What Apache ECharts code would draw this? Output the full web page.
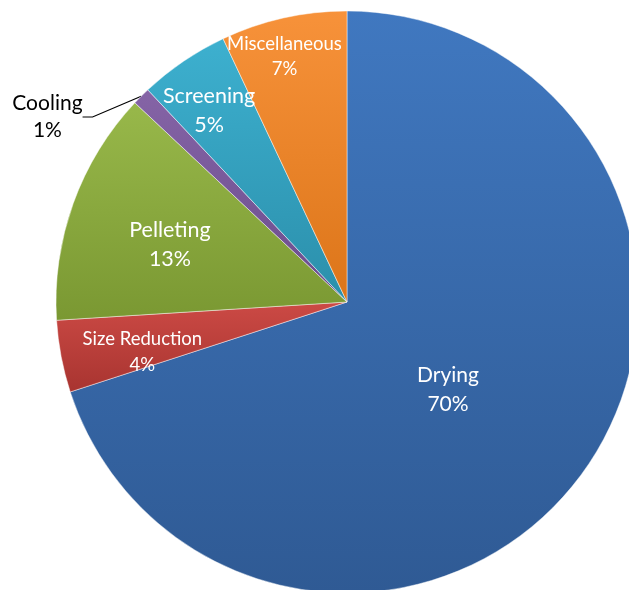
<!DOCTYPE html>
<html><head><meta charset="utf-8">
<script src="https://cdn.jsdelivr.net/npm/echarts@6/dist/echarts.min.js"></script>
<style>html,body{margin:0;padding:0;background:#fff}#c{width:629px;height:590px}</style>
</head><body><div id="c"></div><script>
// Data
const categories = ['Drying', 'Size Reduction', 'Pelleting', 'Cooling', 'Screening', 'Miscellaneous'];
const shares = [70, 4, 13, 1, 5, 7];

// Styling
const topColors = ['#4078c0', '#cc4a45', '#98b84a', '#8564a6', '#3db0cf', '#f7923a'];
const bottomColors = ['#2f5a94', '#a83430', '#7a9832', '#6a4c8c', '#2b8fab', '#dc7519'];
const labelColors = ['#fff', '#fff', '#fff', '#000', '#fff', '#fff'];
const labelSizes = [21, 18.5, 21.5, 21, 21.5, 18.5];
const labelLineHeights = [29, 26, 29, 27, 29, 25];
// [angle shift from slice middle (deg), distance as fraction of radius]
const labelPlacement = [[5, 0.46], [-3, 0.724], [-1.7, 0.64], [-13.3, 1.21], [-1.6, 0.81], [-1.7, 0.87]];

const CX = 347, CY = 302, R = 291;
const total = shares.reduce((a, b) => a + b, 0);
const mids = [];
let acc = 0;
shares.forEach(v => { mids.push((acc + v / 2) / total * 360); acc += v; });

const chart = echarts.init(document.getElementById('c'));
chart.setOption({
  animation: false,
  series: [{
    type: 'pie',
    startAngle: 90,
    clockwise: true,
    center: [CX, CY],
    radius: [0, R],
    avoidLabelOverlap: false,
    label: { position: 'inside', fontFamily: 'Lato', formatter: '{b}\n{c}%' },
    labelLine: { show: false },
    labelLayout: function (p) {
      const i = p.dataIndex;
      const pl = labelPlacement[i];
      const a = (mids[i] + pl[0]) * Math.PI / 180;
      const d = pl[1] * R;
      return { x: CX + d * Math.sin(a), y: CY - d * Math.cos(a), align: 'center', verticalAlign: 'middle' };
    },
    itemStyle: { borderColor: 'rgba(255,255,255,0.45)', borderWidth: 1 },
    data: categories.map((name, i) => ({
      name: name,
      value: shares[i],
      itemStyle: {
        color: new echarts.graphic.LinearGradient(0, 0, 0, 1, [
          { offset: 0, color: topColors[i] },
          { offset: 1, color: bottomColors[i] }
        ])
      },
      label: {
        position: i === 3 ? 'outside' : 'inside',
        color: labelColors[i],
        fontSize: labelSizes[i],
        lineHeight: labelLineHeights[i]
      },
      labelLine: i === 3 ? { show: true, length: 10, length2: 10, lineStyle: { color: '#000', width: 1.2 } } : { show: false }
    }))
  }]
});
</script></body></html>
